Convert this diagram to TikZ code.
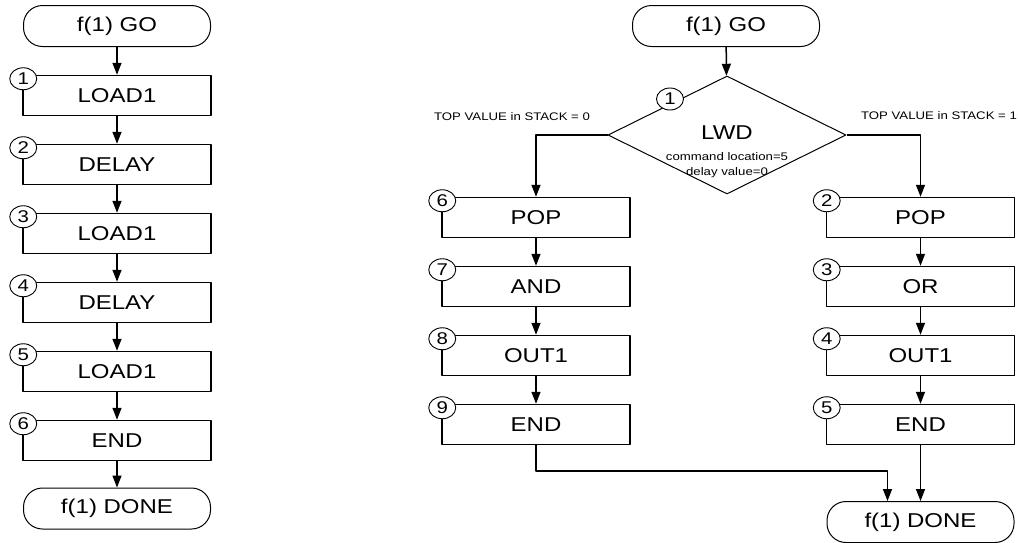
\documentclass[tikz,border=0pt]{standalone}
\usepackage{fontspec}
\setmainfont{Liberation Sans}[FakeStretch=1.2]
\usetikzlibrary{arrows.meta,shapes.geometric}
\begin{document}
\begin{tikzpicture}[x=1pt, y=-1pt, line join=round,
	>={Triangle[length=12pt,width=9pt]},
	font=\fontsize{20}{24}\selectfont,
	stepbox/.style={draw, line width=1.5pt, minimum width=188pt, minimum height=40pt, inner sep=0pt},
	term/.style={draw, rounded corners=19pt, line width=1pt, minimum width=187pt, minimum height=41pt, inner sep=0pt},
	num/.style={draw, ellipse, fill=white, line width=0.9pt, minimum width=27pt, minimum height=22pt, inner sep=0pt, font=\fontsize{17}{20}\selectfont},
	decision/.style={draw, diamond, line width=1pt, minimum width=238pt, minimum height=118pt, inner sep=0pt},
	note/.style={font=\fontsize{11}{13}\selectfont},
	flow/.style={->, line width=1.5pt}]
	\useasboundingbox (0,0) rectangle (1018,542);
	% left flow
	\node[term] (go1) at (117,26) {f(1) GO};
	\foreach \i/\t in {1/LOAD1,2/DELAY,3/LOAD1,4/DELAY,5/LOAD1,6/END}
		\node[stepbox] (a\i) at (117,{95.5+69*(\i-1)}) {\t};
	\node[term] (done1) at (117,508.5) {f(1) DONE};
	\draw[flow] (go1) -- (a1);
	\foreach \i/\j in {1/2,2/3,3/4,4/5,5/6}
		\draw[flow] (a\i) -- (a\j);
	\draw[flow] (a6) -- (done1);
	\foreach \i in {1,...,6}
		\node[num] (na\i) at ([xshift=1pt,yshift=-4pt]a\i.north west) {\i};
	% right flow
	\node[term] (go2) at (726,26) {f(1) GO};
	\node[decision] (lwd) at (727,135) {};
	\node (lwdname) at (727,133) {LWD};
	\node[note] (lwdloc) at (727,157) {command location=5};
	\node[note] (lwddly) at (727,173) {delay value=0};
	\node[note] (top0) at (512,117) {TOP VALUE in STACK = 0};
	\node[note] (top1) at (939,116) {TOP VALUE in STACK = 1};
	\foreach \i/\t [count=\k] in {6/POP,7/AND,8/OUT1,9/END}
		\node[stepbox] (l\i) at (536,{217.5+69*(\k-1)}) {\t};
	\foreach \i/\t [count=\k] in {2/POP,3/OR,4/OUT1,5/END}
		\node[stepbox] (r\i) at (920.5,{217.5+69*(\k-1)}) {\t};
	\node[term] (done2) at (920.5,522) {f(1) DONE};
	\coordinate (in9) at ([xshift=-33pt]done2.north);
	\draw[flow] (go2) -- (lwd);
	\draw[flow] (lwd.west) -| (l6);
	\draw[flow] (lwd.east) -| (r2);
	\foreach \i/\j in {6/7,7/8,8/9}
		\draw[flow] (l\i) -- (l\j);
	\foreach \i/\j in {2/3,3/4,4/5}
		\draw[flow] (r\i) -- (r\j);
	\draw[flow] (l9) |- ([yshift=30pt]in9) -- (in9);
	\draw[flow] (r5) -- (done2);
	\node[num] (nd1) at (670,99) {1};
	\foreach \i in {6,...,9}
		\node[num] (nl\i) at ([xshift=1pt,yshift=-4pt]l\i.north west) {\i};
	\foreach \i in {2,...,5}
		\node[num] (nr\i) at ([xshift=1pt,yshift=-4pt]r\i.north west) {\i};
\end{tikzpicture}
\end{document}
